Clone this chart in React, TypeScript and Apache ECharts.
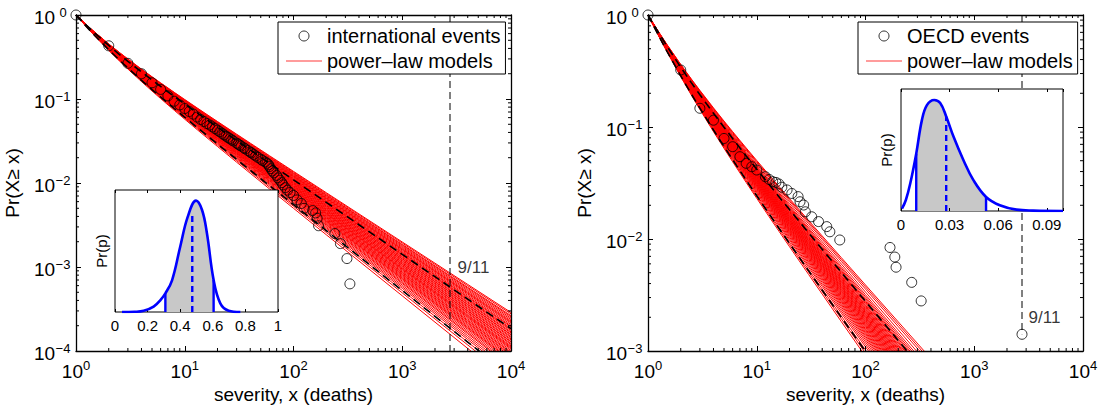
import React, { useEffect, useRef } from 'react';
import * as echarts from 'echarts';

const FONT = "'Liberation Sans', Arial, Helvetica, sans-serif";
const MODEL_NAME = 'power–law models';

// ---------- data ----------
const intlSeverity = [1, 2, 3, 4, 5, 6, 7, 8, 9, 10, 11, 12, 13, 14, 15, 16, 17, 18, 19, 20, 21, 22, 23, 24, 25, 26, 27, 28, 30, 31, 32, 33, 35, 36, 38, 40, 41, 43, 45, 47, 50, 52, 55, 57, 59, 60, 62, 64, 66, 70, 72, 75, 78, 80, 84, 88, 93, 100, 108, 118, 125, 150, 160, 165, 170, 240, 270, 310, 330];
const intlCcdf = [1, 0.43, 0.266, 0.2, 0.156, 0.13, 0.109, 0.094, 0.085, 0.077, 0.071, 0.066, 0.061, 0.057, 0.054, 0.051, 0.049, 0.0465, 0.0445, 0.0425, 0.0408, 0.039, 0.0375, 0.036, 0.0348, 0.0337, 0.0326, 0.0316, 0.0298, 0.029, 0.0282, 0.0275, 0.0262, 0.0255, 0.0244, 0.0234, 0.0228, 0.0219, 0.021, 0.0202, 0.0192, 0.0185, 0.0178, 0.0172, 0.0165, 0.0157, 0.0148, 0.0139, 0.0132, 0.0123, 0.0115, 0.0108, 0.0101, 0.0095, 0.0088, 0.0082, 0.0077, 0.0071, 0.0063, 0.0057, 0.005, 0.0047, 0.0044, 0.0038, 0.0031, 0.0025, 0.0019, 0.00126, 0.00063];

const oecdSeverity = [1, 2, 3, 4, 5, 6, 7, 8, 9, 10, 12, 13, 14, 15, 16, 17, 19, 21, 24, 25, 27, 28, 32, 37, 44, 47, 58, 168, 186, 191, 266, 325, 2749];
const oecdCcdf = [1, 0.323, 0.147, 0.115, 0.079, 0.0667, 0.0543, 0.0474, 0.0442, 0.0413, 0.036, 0.034, 0.0325, 0.032, 0.031, 0.029, 0.0274, 0.0255, 0.0239, 0.0215, 0.0201, 0.0175, 0.0158, 0.0143, 0.0129, 0.0116, 0.0098, 0.0084, 0.0069, 0.0056, 0.0041, 0.0028, 0.00141];

// tail exponents (alpha - 1) of the fitted discrete power-law models
const intlModelExponents = [0.839, 0.843, 0.848, 0.851, 0.855, 0.859, 0.863, 0.866, 0.869, 0.873, 0.877, 0.88, 0.884, 0.887, 0.89, 0.894, 0.897, 0.901, 0.903, 0.907, 0.91, 0.914, 0.917, 0.921, 0.923, 0.927, 0.93, 0.934, 0.937, 0.94, 0.943, 0.947, 0.951, 0.954, 0.958, 0.961, 0.965, 0.969, 0.973, 0.976, 0.98, 0.985, 0.99, 0.994, 1.0, 1.006, 1.012, 1.02, 1.029, 1.04];
const oecdModelExponents = [1.09, 1.098, 1.107, 1.119, 1.13, 1.138, 1.145, 1.151, 1.157, 1.162, 1.167, 1.173, 1.177, 1.182, 1.187, 1.191, 1.196, 1.2, 1.204, 1.209, 1.213, 1.218, 1.222, 1.226, 1.231, 1.235, 1.24, 1.244, 1.249, 1.254, 1.259, 1.264, 1.27, 1.275, 1.281, 1.287, 1.293, 1.3, 1.307, 1.315, 1.324, 1.334, 1.344, 1.357, 1.37, 1.383];
const intlBoundExponents = [0.885, 1.02];
const oecdBoundExponents = [1.157, 1.363];
const modelSampleX = [1, 1.25, 1.5, 2, 2.5, 3, 4, 5, 6, 8, 10, 13, 16, 20, 30, 40, 60, 100, 200, 400, 1000, 2000, 4000, 10000];

const nineElevenSeverity = 2749;

// inset densities of p
const intlInsetP = [0.043, 0.12, 0.176, 0.237, 0.28, 0.309, 0.35, 0.4, 0.446, 0.497, 0.534, 0.564, 0.605, 0.646, 0.697, 0.769];
const intlInsetDensity = [0, 0.002, 0.01, 0.044, 0.1, 0.153, 0.26, 0.535, 0.78, 0.913, 0.836, 0.645, 0.262, 0.071, 0.011, 0];
const intlInsetBounds = [0.309, 0.605];
const intlInsetMedian = 0.474;
const intlInsetMedianHeight = 0.82;

const oecdInsetP = [0.0006, 0.003, 0.0057, 0.0094, 0.0129, 0.016, 0.0205, 0.0242, 0.0279, 0.0324, 0.0385, 0.0447, 0.0525, 0.061, 0.0713, 0.0816, 0.1];
const oecdInsetDensity = [0.019, 0.09, 0.225, 0.47, 0.745, 0.868, 0.91, 0.885, 0.775, 0.61, 0.418, 0.253, 0.115, 0.047, 0.011, 0.003, 0];
const oecdInsetBounds = [0.0094, 0.0525];
const oecdInsetMedian = 0.0279;
const oecdInsetMedianHeight = 0.775;

const severityRange = [1, 10000];
const intlProbRange = [1e-4, 1];
const oecdProbRange = [1e-3, 1];
const minorMultipliers = [2, 3, 4, 5, 6, 7, 8, 9];

// ---------- helpers ----------
// Hurwitz zeta (Euler-Maclaurin), used for the discrete power-law CCDF of each model
function hurwitz(s: number, q: number) {
  let sum = 0;
  const N = 12;
  for (let k = 0; k < N; k++) sum += Math.pow(q + k, -s);
  const z = q + N;
  sum += Math.pow(z, 1 - s) / (s - 1) + 0.5 * Math.pow(z, -s) + (s * Math.pow(z, -s - 1)) / 12 - (s * (s + 1) * (s + 2) * Math.pow(z, -s - 3)) / 720;
  return sum;
}
function modelData(a: number, yMin: number) {
  const s = a + 1;
  const norm = hurwitz(s, 1);
  const out: number[][] = [];
  for (const x of modelSampleX) {
    const y = hurwitz(s, x) / norm;
    out.push([x, y]);
    if (y < yMin) break;
  }
  return out;
}

const supY = (v: number) => {
  const e = Math.round(Math.log10(v));
  return `{b|10}{s|${e < 0 ? '−' + -e : e}}`;
};
const richX = {
  b: { fontSize: 19, fontFamily: FONT, color: '#000', padding: [5, 0, 0, 0], lineHeight: 19 },
  s: { fontSize: 13, fontFamily: FONT, color: '#000', verticalAlign: 'top', lineHeight: 13 },
};
const richY = {
  b: { fontSize: 19, fontFamily: FONT, color: '#000', padding: [5, 0, 0, 0], lineHeight: 19 },
  s: { fontSize: 13, fontFamily: FONT, color: '#000', verticalAlign: 'top', lineHeight: 13, width: 16, align: 'left' },
};

function logX(gridIndex: number, bottom: boolean) {
  return {
    type: 'log', logBase: 10, gridIndex, min: severityRange[0], max: severityRange[1],
    position: bottom ? 'bottom' : 'top', z: 5,
    axisLine: { show: true, lineStyle: { color: '#000', width: 1.3 } },
    axisTick: { show: true, inside: true, length: 5, lineStyle: { color: '#000', width: 1 } },
    splitLine: { show: false },
    axisLabel: bottom ? { show: true, margin: 8, formatter: supY, rich: richX } : { show: false },
    name: bottom ? 'severity, x (deaths)' : '',
    nameLocation: 'middle', nameGap: 28,
    nameTextStyle: { fontSize: 19, fontFamily: FONT, color: '#000' },
  };
}
function logY(gridIndex: number, range: number[], left: boolean) {
  return {
    type: 'log', logBase: 10, gridIndex, min: range[0], max: range[1],
    position: left ? 'left' : 'right', z: 5,
    axisLine: { show: true, lineStyle: { color: '#000', width: 1.3 } },
    axisTick: { show: true, inside: true, length: 5, lineStyle: { color: '#000', width: 1 } },
    splitLine: { show: false },
    axisLabel: left ? { show: true, margin: 5, formatter: supY, rich: richY } : { show: false },
    name: left ? 'Pr(X≥ x)' : '',
    nameLocation: 'middle', nameGap: 54,
    nameTextStyle: { fontSize: 19, fontFamily: FONT, color: '#000' },
  };
}
function insetX(gridIndex: number, max: number, interval: number, bottom: boolean, fmt: (v: number) => string) {
  return {
    type: 'value', gridIndex, min: 0, max, interval, position: bottom ? 'bottom' : 'top', z: 7,
    axisLine: { show: false },
    axisTick: { show: true, inside: true, length: 3, lineStyle: { color: '#000', width: 1 } },
    splitLine: { show: false },
    axisLabel: bottom ? { show: true, margin: 6, fontSize: 15, fontFamily: FONT, color: '#000', formatter: fmt } : { show: false },
  };
}
function insetY(gridIndex: number, gap: number) {
  return {
    type: 'value', gridIndex, min: 0, max: 1, z: 7,
    axisLine: { show: false }, axisTick: { show: false }, axisLabel: { show: false }, splitLine: { show: false },
    name: 'Pr(p)', nameLocation: 'middle', nameGap: gap,
    nameTextStyle: { fontSize: 15, fontFamily: FONT, color: '#000' },
  };
}

function minorTicks(xi: number, yi: number, yRange: number[]) {
  const ticks: { axis: string; v: number }[] = [];
  const xl = Math.round(Math.log10(severityRange[0])), xh = Math.round(Math.log10(severityRange[1]));
  const yl = Math.round(Math.log10(yRange[0])), yh = Math.round(Math.log10(yRange[1]));
  for (let e = xl; e < xh; e++) minorMultipliers.forEach((m) => ticks.push({ axis: 'x', v: m * Math.pow(10, e) }));
  for (let e = yl; e < yh; e++) minorMultipliers.forEach((m) => ticks.push({ axis: 'y', v: m * Math.pow(10, e) }));
  const L = 3;
  return {
    type: 'custom', xAxisIndex: xi, yAxisIndex: yi, silent: true, z: 5, clip: false,
    data: ticks.map((t) => (t.axis === 'x' ? [t.v, yRange[0]] : [severityRange[0], t.v])),
    renderItem: (params: any, api: any) => {
      const t = ticks[params.dataIndex];
      const st = { stroke: '#000', lineWidth: 1 };
      if (t.axis === 'x') {
        const a = api.coord([t.v, yRange[0]]);
        const b = api.coord([t.v, yRange[1]]);
        return {
          type: 'group', children: [
            { type: 'line', shape: { x1: a[0], y1: a[1], x2: a[0], y2: a[1] - L }, style: st },
            { type: 'line', shape: { x1: b[0], y1: b[1], x2: b[0], y2: b[1] + L }, style: st },
          ],
        };
      }
      const a = api.coord([severityRange[0], t.v]);
      const b = api.coord([severityRange[1], t.v]);
      return {
        type: 'group', children: [
          { type: 'line', shape: { x1: a[0], y1: a[1], x2: a[0] + L, y2: a[1] }, style: st },
          { type: 'line', shape: { x1: b[0], y1: b[1], x2: b[0] - L, y2: b[1] }, style: st },
        ],
      };
    },
  };
}

function mainSeries(xi: number, yi: number, sev: number[], ccdf: number[], name: string, exps: number[], bounds: number[], yRange: number[], nineEndY: number, labelY: number, labelDist: number) {
  const s: any[] = [];
  exps.forEach((e) => s.push({
    type: 'line', name: MODEL_NAME, xAxisIndex: xi, yAxisIndex: yi, data: modelData(e, yRange[0]),
    symbol: 'none', showSymbol: false, lineStyle: { color: '#ff0000', width: 1 }, z: 2, silent: true, clip: true,
  }));
  bounds.forEach((e) => s.push({
    type: 'line', xAxisIndex: xi, yAxisIndex: yi, data: modelData(e, yRange[0]),
    symbol: 'none', showSymbol: false, lineStyle: { color: '#000', width: 1.6, type: [8, 5] }, z: 3, silent: true, clip: true,
  }));
  s.push({
    type: 'line', xAxisIndex: xi, yAxisIndex: yi, data: [[nineElevenSeverity, yRange[1]], [nineElevenSeverity, nineEndY]],
    symbol: 'none', showSymbol: false, lineStyle: { color: '#000', width: 1, type: [7, 4] }, z: 3, silent: true,
  });
  s.push({
    type: 'scatter', name, xAxisIndex: xi, yAxisIndex: yi, data: sev.map((x, i) => [x, ccdf[i]]),
    symbol: 'circle', symbolSize: 10, itemStyle: { color: 'rgba(0,0,0,0)', borderColor: '#000', borderWidth: 1 },
    z: 4, clip: false, silent: true,
  });
  s.push({
    type: 'scatter', xAxisIndex: xi, yAxisIndex: yi, data: [[nineElevenSeverity, labelY]], symbolSize: 1,
    itemStyle: { color: 'rgba(0,0,0,0)' }, z: 5, silent: true,
    label: { show: true, position: 'right', distance: labelDist, formatter: '9/11', fontSize: 17, fontFamily: FONT, color: '#000' },
  });
  s.push(minorTicks(xi, yi, yRange));
  return s;
}

function insetSeries(xi: number, yi: number, p: number[], d: number[], bounds: number[], med: number, medH: number) {
  const curve = p.map((v, i) => [v, d[i]]);
  const shade = curve.filter((pt) => pt[0] >= bounds[0] && pt[0] <= bounds[1]);
  const hAt = (b: number) => d[p.indexOf(b)];
  const blue = '#0000ff';
  return [
    {
      type: 'line', xAxisIndex: xi, yAxisIndex: yi, data: shade, smooth: 0.4, symbol: 'none', showSymbol: false,
      lineStyle: { width: 0 }, areaStyle: { color: '#c8c8c8', opacity: 1 }, z: 7, silent: true,
    },
    {
      type: 'line', xAxisIndex: xi, yAxisIndex: yi, data: curve, smooth: 0.4, symbol: 'none', showSymbol: false,
      lineStyle: { color: blue, width: 2.6 }, z: 9, silent: true,
    },
    ...bounds.map((b) => ({
      type: 'line', xAxisIndex: xi, yAxisIndex: yi, data: [[b, 0], [b, hAt(b)]], symbol: 'none', showSymbol: false,
      lineStyle: { color: blue, width: 2.4 }, z: 9, silent: true,
    })),
    {
      type: 'line', xAxisIndex: xi, yAxisIndex: yi, data: [[med, 0], [med, medH]], symbol: 'none', showSymbol: false,
      lineStyle: { color: blue, width: 2.4, type: [6, 4] }, z: 9, silent: true,
    },
  ];
}

function legendFor(left: number, scatterName: string) {
  return {
    left, top: 22, orient: 'vertical', backgroundColor: '#fff', borderColor: '#000', borderWidth: 1,
    padding: [3, 5, 2, 8], itemGap: 3, itemWidth: 36, itemHeight: 10, selectedMode: false, z: 10,
    textStyle: { fontSize: 20, fontFamily: FONT, color: '#000', lineHeight: 22 },
    data: [
      { name: scatterName, icon: 'circle', itemStyle: { color: 'rgba(0,0,0,0)', borderColor: '#000', borderWidth: 1 } },
      { name: MODEL_NAME, icon: 'path://M0,0H36V1H0Z', itemStyle: { color: '#ff3b3b', borderWidth: 0 } },
    ],
  };
}

export default function App() {
  const ref = useRef<HTMLDivElement>(null);
  useEffect(() => {
    if (!ref.current) return;
    const chart = echarts.init(ref.current, undefined, { renderer: 'svg' });
    const option: any = {
      animation: false,
      backgroundColor: '#fff',
      textStyle: { fontFamily: FONT },
      grid: [
        { left: 76, top: 15, width: 435, height: 336 },
        { left: 115, top: 190, width: 163, height: 122, show: true, backgroundColor: '#fff', borderColor: '#000', borderWidth: 1, z: 6 },
        { left: 648, top: 15, width: 435, height: 336 },
        { left: 901, top: 89, width: 162, height: 122, show: true, backgroundColor: '#fff', borderColor: '#000', borderWidth: 1, z: 6 },
      ],
      xAxis: [
        logX(0, true), logX(0, false),
        insetX(1, 1, 0.2, true, (v: number) => String(Math.round(v * 10) / 10)), insetX(1, 1, 0.2, false, () => ''),
        logX(2, true), logX(2, false),
        insetX(3, 0.1, 0.03, true, (v: number) => (v > 0.095 ? '' : v === 0 ? '0' : v.toFixed(2))), insetX(3, 0.1, 0.03, false, () => ''),
      ],
      yAxis: [
        logY(0, intlProbRange, true), logY(0, intlProbRange, false),
        insetY(1, 6),
        logY(2, oecdProbRange, true), logY(2, oecdProbRange, false),
        insetY(3, 7),
      ],
      legend: [legendFor(278, 'international events'), legendFor(858, 'OECD events')],
      series: [
        ...mainSeries(0, 0, intlSeverity, intlCcdf, 'international events', intlModelExponents, intlBoundExponents, intlProbRange, intlProbRange[0], 1e-3, 7),
        ...insetSeries(2, 2, intlInsetP, intlInsetDensity, intlInsetBounds, intlInsetMedian, intlInsetMedianHeight),
        ...mainSeries(4, 3, oecdSeverity, oecdCcdf, 'OECD events', oecdModelExponents, oecdBoundExponents, oecdProbRange, oecdCcdf[oecdCcdf.length - 1], 2e-3, 6),
        ...insetSeries(6, 5, oecdInsetP, oecdInsetDensity, oecdInsetBounds, oecdInsetMedian, oecdInsetMedianHeight),
      ],
    };
    chart.setOption(option);
    return () => chart.dispose();
  }, []);
  return <div ref={ref} style={{ position: 'absolute', left: 0, top: 0, width: 1101, height: 411 }} />;
}
